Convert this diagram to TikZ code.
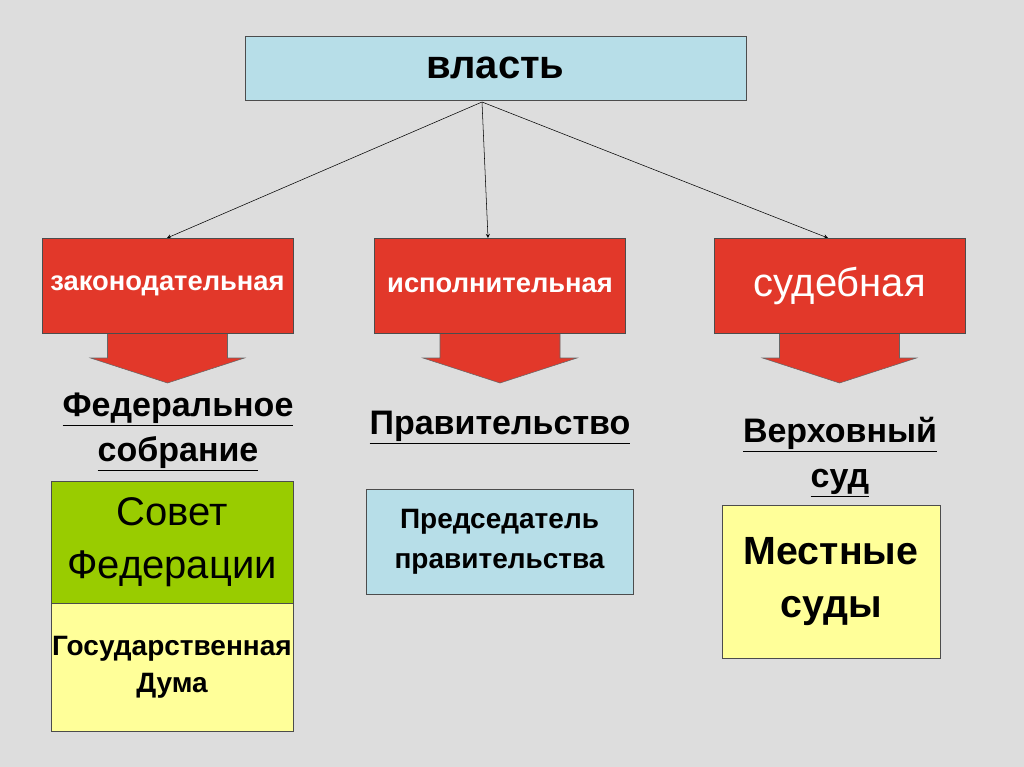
\documentclass[tikz,border=0pt]{standalone}
\usepackage{fontspec}
\setmainfont{Liberation Sans}
\usetikzlibrary{positioning}
\definecolor{bg}{RGB}{221,221,221}
\definecolor{cyanbox}{RGB}{183,222,232}
\definecolor{redbox}{RGB}{226,56,42}
\definecolor{greenbox}{RGB}{153,204,0}
\definecolor{yellowbox}{RGB}{255,255,153}
\tikzset{
  box/.style={draw=black!70, thin, inner sep=0pt, align=center},
  branch/.style={box, fill=redbox, text=white, minimum width=251*0.75pt, minimum height=95*0.75pt},
  organ/.style={font=\bfseries\fontsize{25.5}{30}\selectfont, align=center},
  blockarrow/.style={fill=redbox, draw=black!60, thin}
}
\newcommand{\uline}[1]{\underline{#1}}
\begin{document}
\begin{tikzpicture}[x=0.75pt,y=-0.75pt,>=stealth]
\useasboundingbox[fill=bg] (0,0) rectangle (1024,767);
\coordinate (src) at (482,102);
\draw[->] (src) -- (167,238);
\draw[->] (src) -- (488,238);
\draw[->] (src) -- (828,238);
% block arrows
\foreach \cx in {167.5,500,839.5}
  \draw[blockarrow] (\cx-60,333) -- (\cx-60,358) -- (\cx-77,358) -- (\cx,383) -- (\cx+77,358) -- (\cx+60,358) -- (\cx+60,333);
\node[box, fill=cyanbox, minimum width=501*0.75pt, minimum height=64*0.75pt, font=\bfseries\fontsize{30}{34}\selectfont] (vlast) at (495.5,68) {власть};
\node[branch, font=\bfseries\fontsize{20.5}{24}\selectfont] (zak) at (167.5,285.5) {законодательная};
\node[branch, font=\bfseries\fontsize{20.5}{24}\selectfont] (isp) at (500,285.5) {исполнительная};
\node[branch, font=\fontsize{30}{34}\selectfont] (sud) at (839.5,285.5) {судебная};
\node[organ] (fs) at (178,432) {\uline{Федеральное}\\[4pt]\uline{собрание}};
\node[organ] (prav) at (500,428) {\uline{Правительство}};
\node[organ] (vs) at (840,457) {\uline{Верховный}\\[4pt]\uline{суд}};
\node[box, fill=greenbox, minimum width=242*0.75pt, minimum height=122*0.75pt, font=\fontsize{30}{40}\selectfont] (sf) at (172,542) {Совет\\Федерации};
\node[box, fill=yellowbox, minimum width=242*0.75pt, minimum height=128*0.75pt, font=\bfseries\fontsize{21}{28}\selectfont] (gd) at (172,667) {Государственная\\Дума};
\node[box, fill=cyanbox, minimum width=267*0.75pt, minimum height=105*0.75pt, font=\bfseries\fontsize{21}{30}\selectfont] (pp) at (499.5,541.5) {Председатель\\правительства};
\node[box, fill=yellowbox, minimum width=218*0.75pt, minimum height=153*0.75pt, font=\bfseries\fontsize{29.5}{40}\selectfont] (ms) at (831,581.5) {Местные\\суды};
\end{tikzpicture}
\end{document}
